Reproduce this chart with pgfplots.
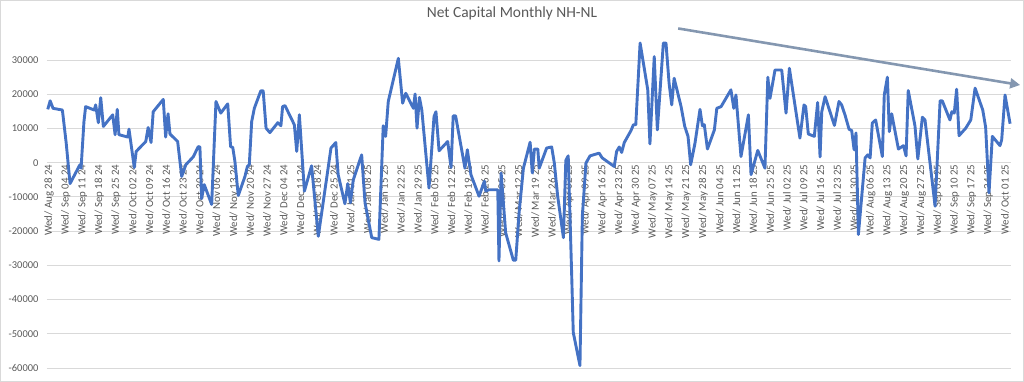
\documentclass[border=0pt]{standalone}
\usepackage{fontspec}
\setmainfont{Carlito}
\usepackage{pgfplots}
\pgfplotsset{compat=1.18}
\usetikzlibrary{arrows.meta}
\definecolor{exblue}{HTML}{4472C4}
\definecolor{txtgray}{HTML}{595959}
\definecolor{gridgray}{HTML}{D9D9D9}
\definecolor{arrowc}{HTML}{8497B0}
\begin{document}
\begin{tikzpicture}
\begin{axis}[
  set layers,
  at={(0,0)}, anchor=south west,
  scale only axis, width=964bp, height=325bp,
  xmin=-0.83, xmax=401.5, ymin=-60000, ymax=35000,
  enlargelimits=false,
  axis x line=middle, axis y line=left,
  hide obscured x ticks=false, hide obscured y ticks=false,
  axis line style={draw=none},
  major tick length=0pt,
  scaled y ticks=false,
  ytick={-60000,-50000,...,30000},
  xtick={0,7,...,399},
  xticklabels={Wed/ Aug 28 24, Wed/ Sep 04 24, Wed/ Sep 11 24, Wed/ Sep 18 24, Wed/ Sep 25 24, Wed/ Oct 02 24, Wed/ Oct 09 24, Wed/ Oct 16 24, Wed/ Oct 23 24, Wed/ Oct 30 24, Wed/ Nov 06 24, Wed/ Nov 13 24, Wed/ Nov 20 24, Wed/ Nov 27 24, Wed/ Dec 04 24, Wed/ Dec 11 24, Wed/ Dec 18 24, Wed/ Dec 25 24, Wed/ Jan 01 25, Wed/ Jan 08 25, Wed/ Jan 15 25, Wed/ Jan 22 25, Wed/ Jan 29 25, Wed/ Feb 05 25, Wed/ Feb 12 25, Wed/ Feb 19 25, Wed/ Feb 26 25, Wed/ Mar 05 25, Wed/ Mar 12 25, Wed/ Mar 19 25, Wed/ Mar 26 25, Wed/ Apr 02 25, Wed/ Apr 09 25, Wed/ Apr 16 25, Wed/ Apr 23 25, Wed/ Apr 30 25, Wed/ May 07 25, Wed/ May 14 25, Wed/ May 21 25, Wed/ May 28 25, Wed/ Jun 04 25, Wed/ Jun 11 25, Wed/ Jun 18 25, Wed/ Jun 25 25, Wed/ Jul 02 25, Wed/ Jul 09 25, Wed/ Jul 16 25, Wed/ Jul 23 25, Wed/ Jul 30 25, Wed/ Aug 06 25, Wed/ Aug 13 25, Wed/ Aug 20 25, Wed/ Aug 27 25, Wed/ Sep 03 25, Wed/ Sep 10 25, Wed/ Sep 17 25, Wed/ Sep 24 25, Wed/ Oct 01 25},
  xticklabel style={rotate=90, anchor=east, font=\fontsize{10.9}{12}\selectfont, text=txtgray, inner sep=2bp},
  yticklabel style={font=\fontsize{10.5}{12}\selectfont, text=txtgray, xshift=-5bp},
  yticklabel={\pgfmathprintnumber[assume math mode=true,1000 sep={},fixed,precision=0]{\tick}},
  ymajorgrids, grid style={gridgray, line width=0.9bp},
  title={Net Capital Monthly NH-NL},
  title style={at={(0.5,1)}, anchor=center, yshift=24bp, xshift=-17bp, font=\fontsize{15.5}{18}\selectfont, text=txtgray},
  clip=false,
]
\addplot[exblue, line width=2.9bp, line join=round, mark=none] table {
x y
-0.5 15600
0.5 18100
1.7 15900
5.6 15400
7.2 5700
8.8 -6100
12.9 -600
13.4 -1600
14.6 12000
15.3 16400
18.9 15400
19.5 16900
20.6 11700
21.6 19000
22.7 10600
26.6 14000
27.6 8200
28.5 15600
29.2 8200
32.9 7500
33.4 9800
35.6 -1400
36.4 3300
40.4 6200
41.4 10300
42.6 5900
43.5 14900
47.7 18500
48.7 7500
49.7 14300
50.5 8400
53.7 6200
55.4 -4000
57.1 -600
60.2 1700
62.3 4700
63.0 4600
63.7 -10500
64.8 -6400
67.9 -12200
69.7 17900
71.7 14500
74.6 17200
75.8 4700
76.7 4500
77.6 400
79.0 -9600
81.8 -4000
82.8 -1100
83.6 -600
84.6 12000
85.7 15900
88.4 21000
89.4 21000
90.6 10100
92.2 8800
95.5 11700
96.8 10800
97.5 16400
98.5 16700
102.4 11100
103.4 3300
104.5 14000
106.6 -8300
109.6 -900
112.4 -21500
117.7 4300
119.7 5900
120.7 -3500
123.5 -12000
124.7 -6100
125.8 -11700
127.0 -5000
130.5 2300
131.9 -11700
134.7 -21900
137.7 -22400
139.5 10800
140.5 7700
141.6 17900
145.8 30500
147.6 17400
148.9 20300
152.1 15900
152.8 20100
153.6 10100
154.6 19100
155.6 15400
158.6 -7400
160.7 13500
161.5 14900
162.8 3500
166.4 6200
167.8 -1400
168.7 13700
169.7 13700
173.6 -1600
174.6 3800
176.1 -3500
179.5 -9800
181.7 -5400
182.3 -8300
183.6 -7900
187.3 -7900
187.8 -28700
188.7 -3000
190.6 -20500
193.8 -28500
194.8 -28500
196.2 -14600
198.0 -1600
200.8 6000
201.7 -3000
202.6 4000
204.0 4000
204.6 -1600
207.7 4300
209.8 4600
210.9 -100
212.3 -9800
214.7 -21900
215.7 700
216.7 2000
218.2 -34100
218.8 -49600
221.6 -59300
222.6 -15600
224.1 -100
225.8 2000
229.6 2800
230.9 1400
235.9 -1100
236.9 3300
238.0 4600
239.0 3000
240.1 5900
242.9 9400
243.9 11100
244.9 11100
246.7 35000
249.9 21300
250.8 5500
252.6 31000
253.9 9600
256.4 35000
257.5 35000
258.8 23200
259.9 16900
260.9 24700
263.8 16400
265.3 10700
266.7 7700
267.8 -600
269.6 5700
271.7 15600
272.7 10800
273.5 11100
274.8 4000
277.7 9600
278.7 15900
280.5 16400
284.6 21300
285.8 15900
286.7 19800
288.8 1800
291.9 14000
293.0 -3500
295.8 3600
298.8 -1600
300.0 25000
300.9 18800
303.0 27100
305.8 27100
307.6 14500
309.0 27600
313.4 7200
315.1 16900
315.8 16400
316.9 8400
319.4 7700
320.8 17600
321.8 1700
322.5 14900
323.9 19300
327.8 10900
329.7 17900
330.8 16900
332.2 14000
333.9 9800
335.0 9400
336.0 3800
336.8 8700
337.8 -21000
340.6 1400
341.7 2300
342.7 1400
343.6 11600
345.0 12500
347.8 1800
348.6 19800
349.9 25000
350.7 9100
351.7 14300
354.5 4000
356.6 5000
357.7 2000
358.6 21100
361.4 10800
362.6 1100
364.5 13300
365.6 12500
369.8 -12700
371.9 18100
372.8 18100
376.0 12500
376.8 14900
377.8 14500
378.8 21500
379.8 7900
382.6 10100
384.7 12500
386.5 21800
389.7 15400
390.9 10400
392.3 -8800
393.7 7700
396.9 5000
397.6 6700
399.0 19800
401.1 11400
};
\addplot[arrowc, line width=2.6bp, -{Triangle[length=10bp,width=10bp]}] coordinates {(262.6,39240) (405.3,22720)};
\end{axis}
\draw[gridgray, line width=0.75bp] ([xshift=-46.6bp,yshift=-13.6bp]current axis.south west) rectangle ([xshift=12.6bp,yshift=42.6bp]current axis.north east);
\end{tikzpicture}
\end{document}
